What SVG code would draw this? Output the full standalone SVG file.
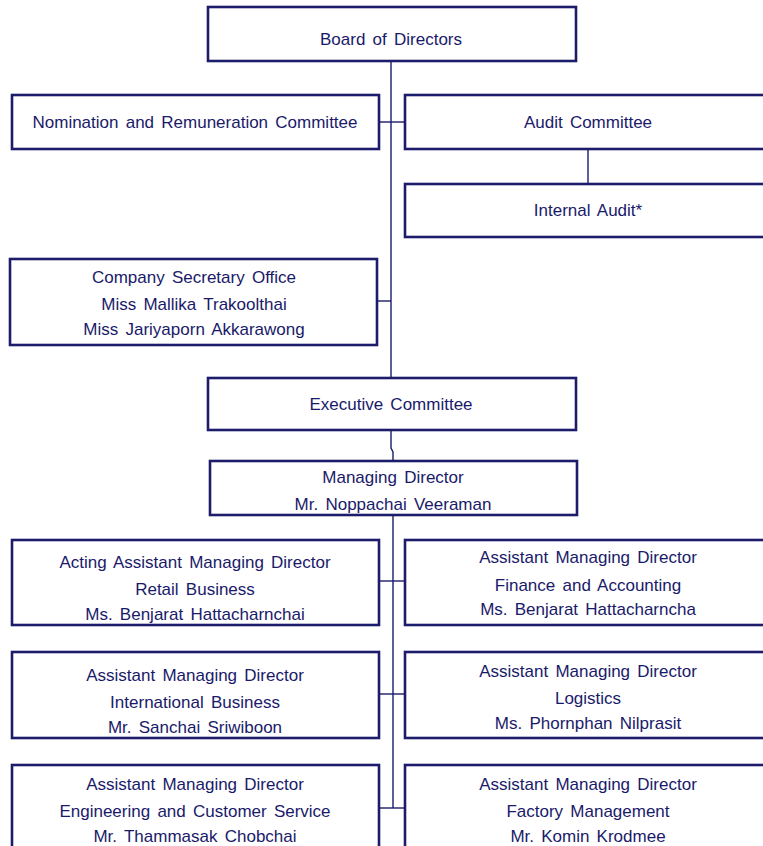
<svg xmlns="http://www.w3.org/2000/svg" width="763" height="846" viewBox="0 0 763 846">
<style>
rect{fill:#fff;stroke:#1c1c6b;stroke-width:2.6}
text{font-family:"Liberation Sans",Arial,sans-serif;font-size:17px;fill:#1a1a6a;text-anchor:middle;word-spacing:2.5px}
#connectors path{fill:none;stroke:#1c1c6b;stroke-width:1.4}
</style>
<rect x="0" y="0" width="763" height="846" style="stroke:none"/>
<g id="connectors">
<path d="M391 61V448L393 452V461"/>
<path d="M379 122H405"/>
<path d="M588 149V184"/>
<path d="M377 301H391"/>
<path d="M393 515V808"/>
<path d="M379 581H405"/>
<path d="M379 694H405"/>
<path d="M379 808H405"/>
</g>
<g id="board"><rect x="208" y="7" width="368" height="54"/><text x="391" y="45">Board of Directors</text></g>
<g id="nomination"><rect x="12" y="95" width="367" height="54"/><text x="195" y="128">Nomination and Remuneration Committee</text></g>
<g id="audit"><rect x="405" y="95" width="370" height="54"/><text x="588" y="128">Audit Committee</text></g>
<g id="internal-audit"><rect x="405" y="184" width="370" height="53"/><text x="588" y="216">Internal Audit*</text></g>
<g id="secretary"><rect x="10" y="259" width="367" height="86"/><text x="194" y="283">Company Secretary Office</text><text x="194" y="310">Miss Mallika Trakoolthai</text><text x="194" y="335">Miss Jariyaporn Akkarawong</text></g>
<g id="executive"><rect x="208" y="378" width="368" height="52"/><text x="391" y="410">Executive Committee</text></g>
<g id="md"><rect x="210" y="461" width="367" height="54"/><text x="393" y="483">Managing Director</text><text x="393" y="510">Mr. Noppachai Veeraman</text></g>
<g id="retail"><rect x="12" y="540" width="367" height="85"/><text x="195" y="568">Acting Assistant Managing Director</text><text x="195" y="595">Retail Business</text><text x="195" y="620">Ms. Benjarat Hattacharnchai</text></g>
<g id="finance"><rect x="405" y="540" width="370" height="85"/><text x="588" y="563">Assistant Managing Director</text><text x="588" y="591">Finance and Accounting</text><text x="588" y="615">Ms. Benjarat Hattacharncha</text></g>
<g id="international"><rect x="12" y="652" width="367" height="86"/><text x="195" y="681">Assistant Managing Director</text><text x="195" y="708">International Business</text><text x="195" y="733">Mr. Sanchai Sriwiboon</text></g>
<g id="logistics"><rect x="405" y="652" width="370" height="86"/><text x="588" y="677">Assistant Managing Director</text><text x="588" y="704">Logistics</text><text x="588" y="729">Ms. Phornphan Nilprasit</text></g>
<g id="engineering"><rect x="12" y="765" width="367" height="90"/><text x="195" y="790">Assistant Managing Director</text><text x="195" y="817">Engineering and Customer Service</text><text x="195" y="842">Mr. Thammasak Chobchai</text></g>
<g id="factory"><rect x="405" y="765" width="370" height="90"/><text x="588" y="790">Assistant Managing Director</text><text x="588" y="817">Factory Management</text><text x="588" y="842">Mr. Komin Krodmee</text></g>
</svg>
